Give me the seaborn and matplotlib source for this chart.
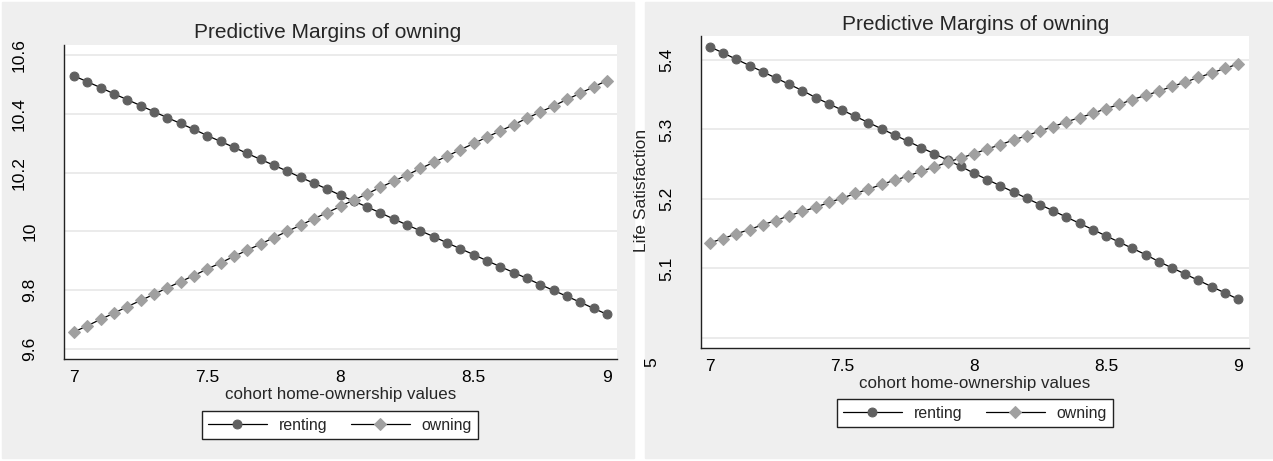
import matplotlib
matplotlib.use("Agg")
import matplotlib.pyplot as plt
import matplotlib.patches as mpatches
from matplotlib.transforms import ScaledTranslation
import pandas as pd
import seaborn as sns

# cohort home-ownership values (x)
cohort = [7.00, 7.05, 7.10, 7.15, 7.20, 7.25, 7.30, 7.35, 7.40, 7.45,
          7.50, 7.55, 7.60, 7.65, 7.70, 7.75, 7.80, 7.85, 7.90, 7.95,
          8.00, 8.05, 8.10, 8.15, 8.20, 8.25, 8.30, 8.35, 8.40, 8.45,
          8.50, 8.55, 8.60, 8.65, 8.70, 8.75, 8.80, 8.85, 8.90, 8.95, 9.00]

# left panel
left_renting = [10.529, 10.509, 10.489, 10.468, 10.448, 10.428, 10.407, 10.387, 10.367, 10.347,
                10.326, 10.306, 10.286, 10.265, 10.245, 10.225, 10.205, 10.184, 10.164, 10.144,
                10.123, 10.103, 10.083, 10.063, 10.042, 10.022, 10.002, 9.982, 9.961, 9.941,
                9.921, 9.900, 9.880, 9.860, 9.840, 9.819, 9.799, 9.779, 9.759, 9.738, 9.718]
left_owning = [9.658, 9.679, 9.701, 9.722, 9.744, 9.765, 9.786, 9.808, 9.829, 9.850,
               9.872, 9.893, 9.915, 9.936, 9.957, 9.979, 10.000, 10.021, 10.043, 10.064,
               10.085, 10.107, 10.128, 10.150, 10.171, 10.192, 10.214, 10.235, 10.256, 10.278,
               10.299, 10.321, 10.342, 10.363, 10.385, 10.406, 10.427, 10.449, 10.470, 10.492, 10.513]

# right panel (life satisfaction)
right_renting = [5.419, 5.410, 5.401, 5.392, 5.383, 5.374, 5.365, 5.356, 5.346, 5.337,
                 5.328, 5.319, 5.310, 5.301, 5.292, 5.283, 5.274, 5.265, 5.256, 5.247,
                 5.237, 5.228, 5.219, 5.210, 5.201, 5.192, 5.183, 5.174, 5.165, 5.156,
                 5.147, 5.138, 5.129, 5.120, 5.110, 5.101, 5.092, 5.083, 5.074, 5.065, 5.056]
right_owning = [5.137, 5.143, 5.150, 5.156, 5.163, 5.169, 5.176, 5.182, 5.188, 5.195,
                5.201, 5.208, 5.214, 5.221, 5.227, 5.233, 5.240, 5.246, 5.253, 5.259,
                5.265, 5.272, 5.278, 5.285, 5.291, 5.298, 5.304, 5.311, 5.317, 5.323,
                5.330, 5.336, 5.343, 5.349, 5.355, 5.362, 5.368, 5.375, 5.381, 5.388, 5.394]

left_yticks = [9.6, 9.8, 10, 10.2, 10.4, 10.6]
left_ylabels = ["9.6", "9.8", "10", "10.2", "10.4", "10.6"]
right_yticks = [5, 5.1, 5.2, 5.3, 5.4]
right_ylabels = ["5", "5.1", "5.2", "5.3", "5.4"]
xticks = [7, 7.5, 8, 8.5, 9]
xlabels = ["7", "7.5", "8", "8.5", "9"]

sns.set_style("white")
plt.rcParams["font.family"] = ["Liberation Sans", "DejaVu Sans"]

W, H = 1273, 461
fig = plt.figure(figsize=(W / 100, H / 100), dpi=100)
fig.patch.set_facecolor("white")

panel_bg = "#efefef"
fig.patches.append(mpatches.Rectangle((2 / W, 3 / H), 632 / W, 456 / H,
                                      transform=fig.transFigure, color=panel_bg, zorder=-5))
fig.patches.append(mpatches.Rectangle((645 / W, 3 / H), 628 / W, 456 / H,
                                      transform=fig.transFigure, color=panel_bg, zorder=-5))

ax1 = fig.add_axes([64 / W, 1 - 359 / H, (617 - 64) / W, (359 - 45) / H])
ax2 = fig.add_axes([701 / W, 1 - 348 / H, (1249 - 701) / W, (348 - 36) / H])

rent_c = "#606060"
own_c = "#a0a0a0"


def draw(ax, rent, own):
    df = pd.DataFrame({"x": cohort, "renting": rent, "owning": own})
    sns.lineplot(data=df, x="x", y="renting", ax=ax, color="black", lw=0.9,
                 marker="o", markersize=6.4, markerfacecolor=rent_c,
                 markeredgecolor=rent_c, label="renting")
    sns.lineplot(data=df, x="x", y="owning", ax=ax, color="black", lw=0.9,
                 marker="D", markersize=6.2, markerfacecolor=own_c,
                 markeredgecolor=own_c, label="owning")
    ax.set_facecolor("white")
    for s in ["top", "right"]:
        ax.spines[s].set_visible(False)
    for s in ["left", "bottom"]:
        ax.spines[s].set_color("#222222")
        ax.spines[s].set_linewidth(1.0)
    ax.set_xticks(xticks)
    ax.set_xticklabels(xlabels)
    ax.tick_params(axis="both", direction="out", length=5, width=0.9,
                   color="#222222", labelsize=12.5, labelcolor="black")
    ax.tick_params(axis="x", pad=3)
    ax.grid(axis="y", color="#e9e9e9", lw=1.3)
    ax.grid(axis="x", visible=False)
    ax.set_ylabel("")
    ax.set_xlabel("cohort home-ownership values", fontsize=12.2, labelpad=1)
    ax.get_legend().remove()


draw(ax1, left_renting, left_owning)
ax1.set_xlim(6.9625, 9.0375)
ax1.set_ylim(9.566, 10.634)
ax1.set_yticks(left_yticks)
ax1.set_yticklabels(left_ylabels, rotation=90, va="center")
ax1.tick_params(axis="y", pad=22)
# shorter labels sit closer to the axis in the original
for lab in ax1.get_yticklabels()[:3]:
    lab.set_transform(lab.get_transform() + ScaledTranslation(0.11, 0, fig.dpi_scale_trans))

draw(ax2, right_renting, right_owning)
ax2.set_xlim(6.966, 9.042)
ax2.set_ylim(4.9856, 5.4345)
ax2.set_yticks(right_yticks)
ax2.set_yticklabels(right_ylabels, rotation=90, va="center")
ax2.tick_params(axis="y", pad=14)
lab5 = ax2.get_yticklabels()[0]
lab5.set_transform(lab5.get_transform() + ScaledTranslation(-0.15, -0.24, fig.dpi_scale_trans))
fig.text(641 / W, 1 - 190 / H, "Life Satisfaction", rotation=90, ha="center", va="center",
         fontsize=12.5)

fig.text(328 / W, 1 - 32 / H, "Predictive Margins of owning", ha="center", va="center",
         fontsize=15)
fig.text(976 / W, 1 - 24 / H, "Predictive Margins of owning", ha="center", va="center",
         fontsize=15)

for ax, cx, cy in [(ax1, 340, 425), (ax2, 975, 413)]:
    h, l = ax.get_legend_handles_labels()
    leg = fig.legend(h, l, loc="center", bbox_to_anchor=(cx / W, 1 - cy / H),
                     ncol=2, fontsize=11.4, frameon=True, fancybox=False,
                     handlelength=3.7, handletextpad=0.75, columnspacing=1.5,
                     borderpad=0.4, borderaxespad=0)
    leg.get_frame().set_edgecolor("#222222")
    leg.get_frame().set_linewidth(1.0)
    leg.get_frame().set_facecolor("white")
    leg.get_frame().set_alpha(1)

fig.savefig("out.png", dpi=100, facecolor="white")
